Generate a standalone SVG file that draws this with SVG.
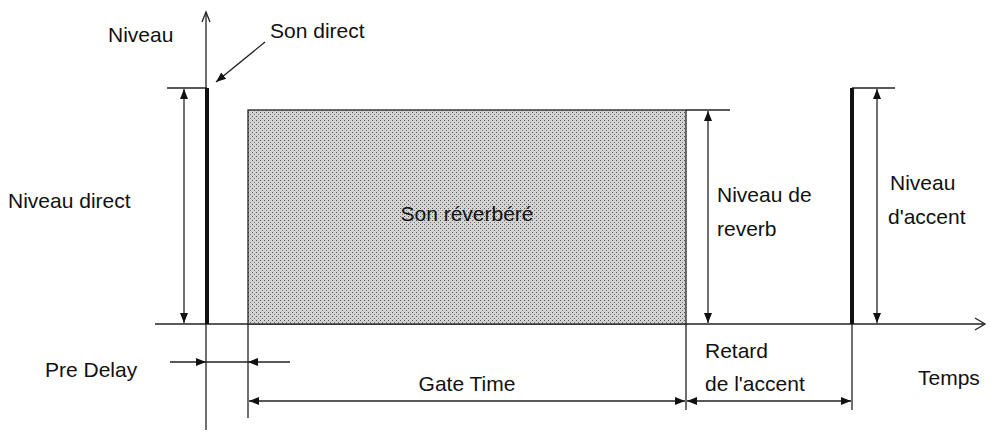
<svg xmlns="http://www.w3.org/2000/svg" width="1006" height="435" viewBox="0 0 1006 435">
<style>
text{font-family:"Liberation Sans",Arial,sans-serif;font-size:21px;fill:#111}
.l{stroke:#222;stroke-width:1.3;fill:none}
.b{stroke:#111;stroke-width:4}
.a{marker-start:url(#m);marker-end:url(#m)}
</style>
<defs>
<marker id="m" viewBox="0 0 10 10" refX="10" refY="5" markerWidth="10" markerHeight="10" markerUnits="userSpaceOnUse" orient="auto-start-reverse"><path d="M0,1 L10,5 L0,9 Z" fill="#111"/></marker>
<pattern id="dots" width="4" height="4" patternUnits="userSpaceOnUse"><rect width="4" height="4" fill="#d2d2d2"/><rect x="0" y="0" width="1" height="1" fill="#555"/><rect x="2" y="2" width="1" height="1" fill="#777"/></pattern>
</defs>
<g id="connectors">
<line class="l" x1="206" y1="12" x2="206" y2="430"/>
<path class="l" d="M202,22 L206,12 L210,22"/>
<line class="l" x1="155" y1="324" x2="985" y2="324"/>
<path class="l" d="M975,318 L985,324 L975,330"/>
<line class="l" x1="167" y1="88" x2="207" y2="88"/>
<line class="l a" x1="184" y1="89" x2="184" y2="323"/>
<line class="l" x1="686" y1="110" x2="730" y2="110"/>
<line class="l a" x1="708" y1="111" x2="708" y2="323"/>
<line class="l" x1="852" y1="88" x2="895" y2="88"/>
<line class="l a" x1="877" y1="89" x2="877" y2="323"/>
<line class="l" x1="265" y1="42" x2="216" y2="82" marker-end="url(#m)"/>
<line class="l" x1="170" y1="362" x2="206" y2="362" marker-end="url(#m)"/>
<line class="l" x1="206" y1="362" x2="248" y2="362"/>
<line class="l" x1="290" y1="362" x2="248" y2="362" marker-end="url(#m)"/>
<line class="l" x1="248" y1="324" x2="248" y2="418"/>
<line class="l" x1="686" y1="324" x2="686" y2="410"/>
<line class="l" x1="852" y1="324" x2="852" y2="410"/>
<line class="l a" x1="249" y1="401" x2="685" y2="401"/>
<line class="l a" x1="687" y1="401" x2="851" y2="401"/>
</g>
<g id="direct"><line class="b" x1="207" y1="88" x2="207" y2="324"/></g>
<g id="reverb"><rect x="248" y="110" width="438" height="214" fill="url(#dots)" stroke="#222" stroke-width="1.3"/><text x="467" y="221" text-anchor="middle">Son réverbéré</text></g>
<g id="accent"><line class="b" x1="852" y1="88" x2="852" y2="324"/></g>
<g id="labels">
<text x="108" y="42">Niveau</text>
<text x="270" y="38">Son direct</text>
<text x="8" y="208">Niveau direct</text>
<text x="717" y="202">Niveau de</text>
<text x="717" y="236">reverb</text>
<text x="890" y="190">Niveau</text>
<text x="888" y="224">d'accent</text>
<text x="45" y="377">Pre Delay</text>
<text x="467" y="391" text-anchor="middle">Gate Time</text>
<text x="705" y="358">Retard</text>
<text x="705" y="391">de l'accent</text>
<text x="918" y="385">Temps</text>
</g>
</svg>
